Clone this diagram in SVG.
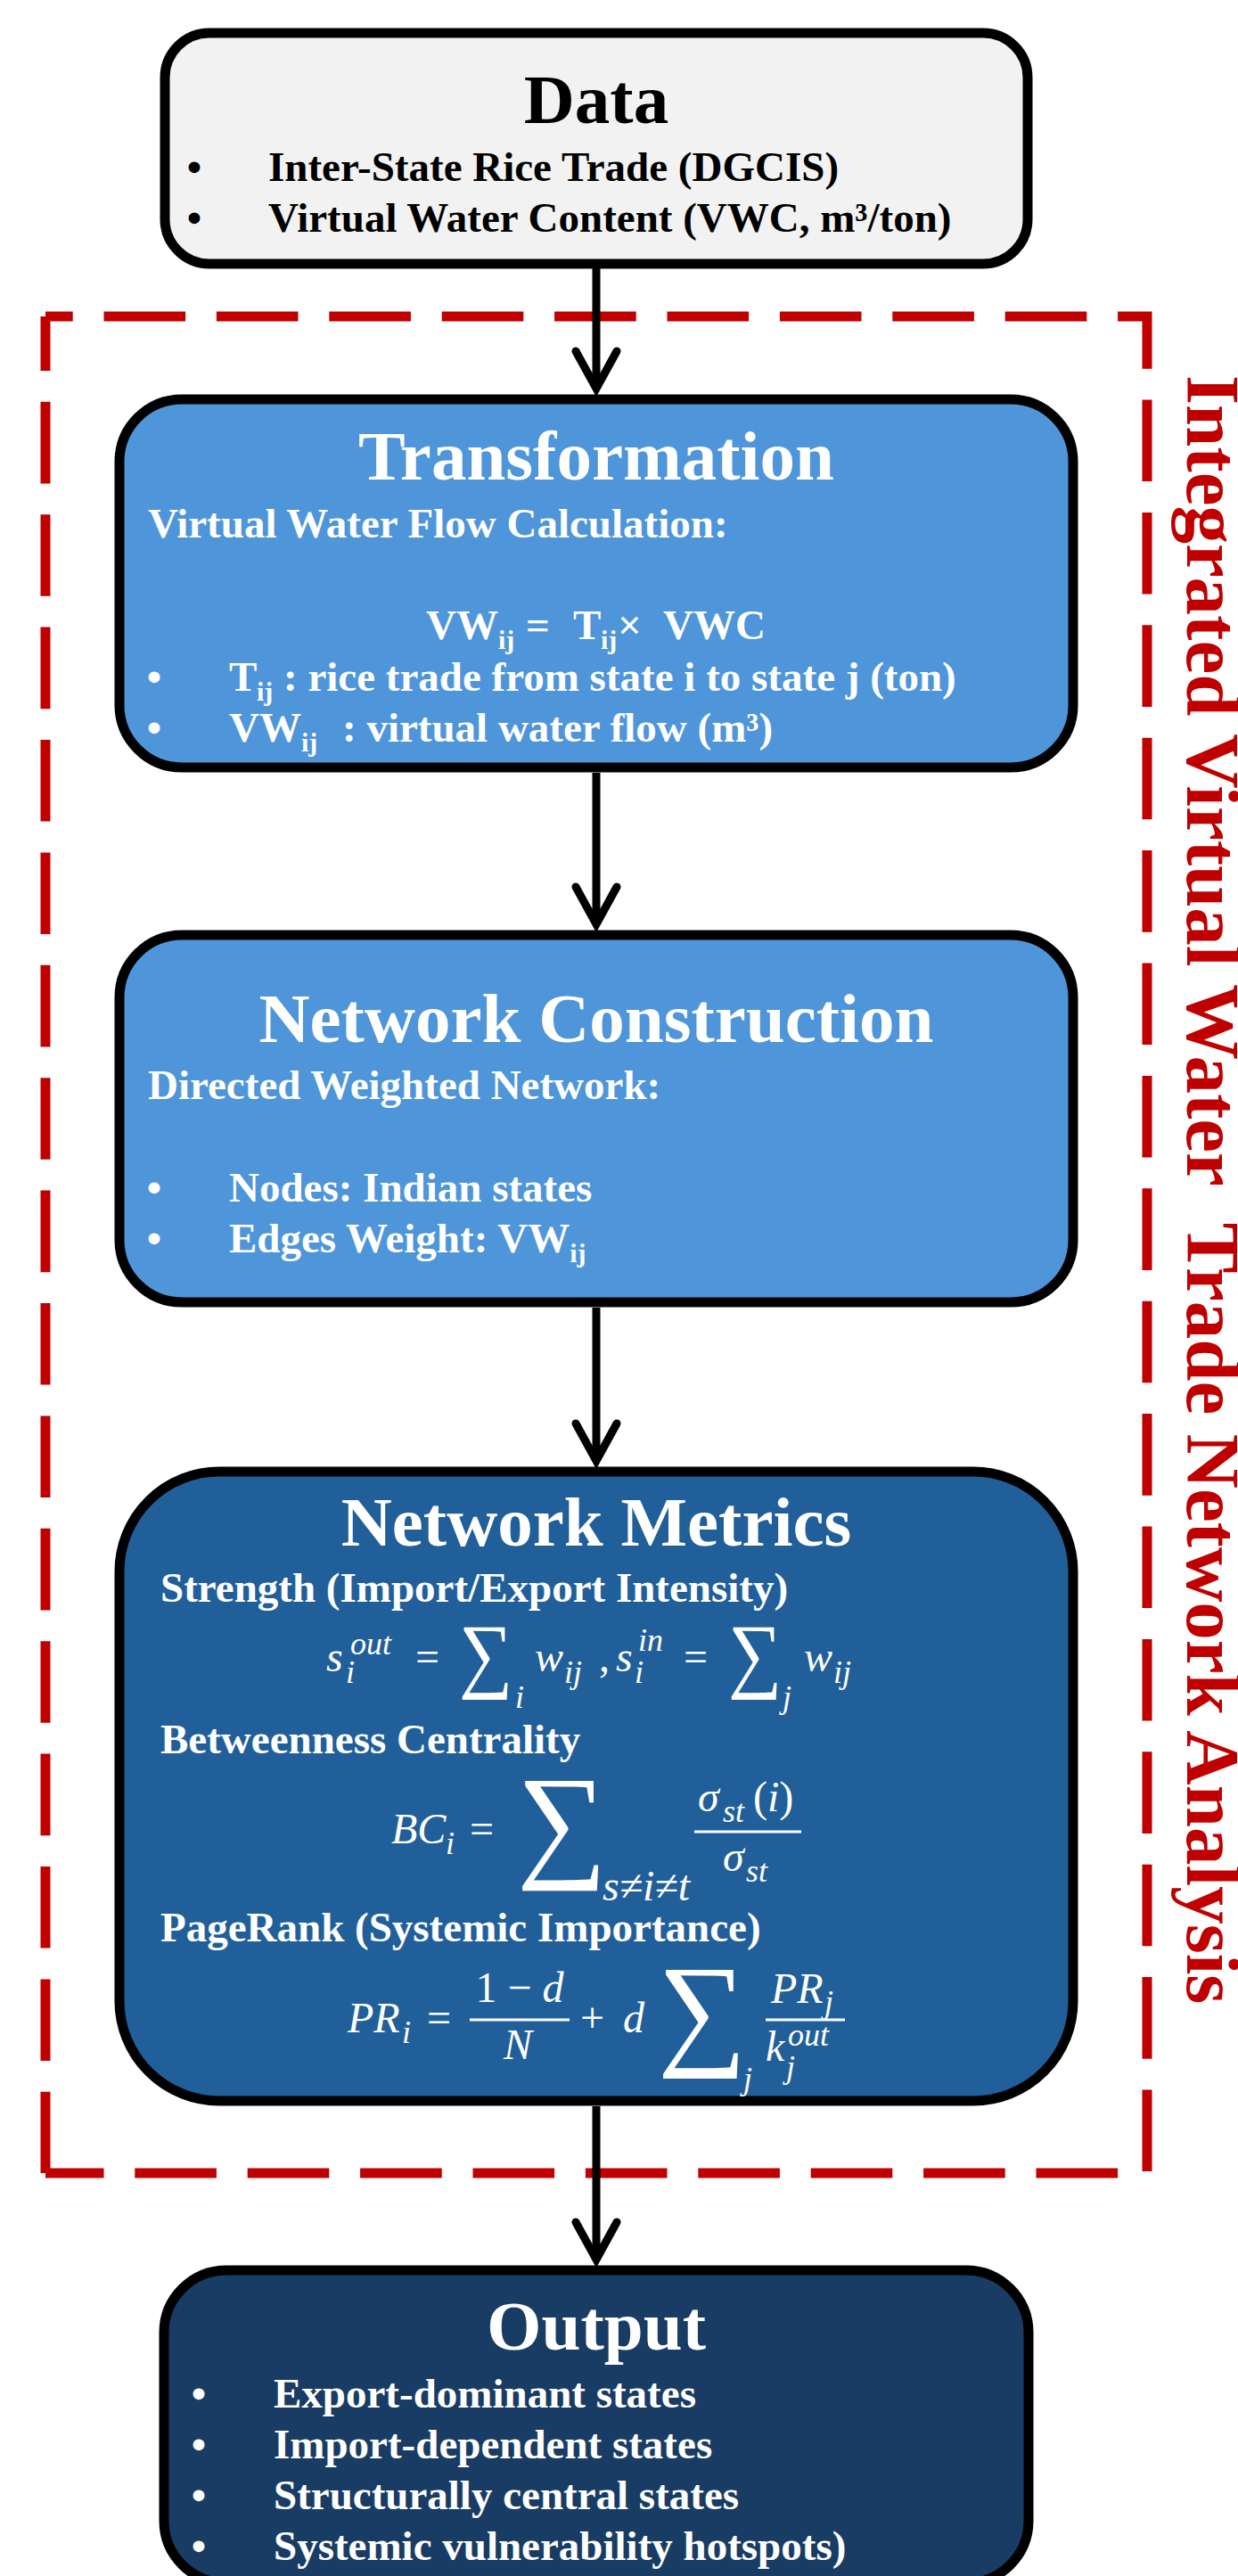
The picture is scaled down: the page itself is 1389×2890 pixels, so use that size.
<svg xmlns="http://www.w3.org/2000/svg" width="1389" height="2890" viewBox="0 0 1389 2890">
  <defs>
    <style>
      .box{stroke:#000;stroke-width:11}
      .t{font-family:"Liberation Serif","Times New Roman",serif;font-weight:bold}
      .title{font-size:79px;text-anchor:middle}
      .body{font-size:47px}
      .sub{font-size:30px}
      .bul{text-anchor:middle}
      .w{fill:#fff}
      .k{fill:#000}
      .m{font-family:"Liberation Serif","Times New Roman",serif;font-style:italic;font-size:48px;fill:#fff}
      .ms{font-size:36px}
      .up{font-style:normal}
      .sum{font-family:"Liberation Serif","Times New Roman",serif;font-style:normal;fill:#fff}
      .bar{stroke:#fff;stroke-width:3}
      .conn{stroke:#000;stroke-width:9;fill:none}
      .head{stroke:#000;stroke-width:9;fill:none;stroke-linecap:round;stroke-linejoin:miter}
      .frame{fill:none;stroke:#C00000;stroke-width:11;stroke-dasharray:91.6 34.8}
      .label{font-family:"Liberation Serif","Times New Roman",serif;font-weight:bold;font-size:85px;fill:#C00000}
    </style>
  </defs>

  <rect width="1389" height="2890" fill="#fff"/>

  <!-- dashed frame around the analysis stages -->
  <g id="frame">
    <path class="frame" d="M51,355 H1287 V2438 H51" stroke-dashoffset="60.9"/>
    <path class="frame" d="M51,355 V2438" stroke-dashoffset="30.6"/>
    <text class="label" transform="translate(1332,421) rotate(90)">Integrated Virtual Water&#160; Trade Network Analysis</text>
  </g>

  <g id="data">
    <rect class="box" x="185" y="37" width="968" height="259" rx="50" fill="#F2F2F2"/>
    <text class="t title k" x="669" y="138">Data</text>
    <text class="t body k bul" x="218" y="203">•</text>
    <text class="t body k" x="301" y="203">Inter-State Rice Trade (DGCIS)</text>
    <text class="t body k bul" x="218" y="260">•</text>
    <text class="t body k" x="301" y="260">Virtual Water Content (VWC, m³/ton)</text>
  </g>

  <g id="transformation">
    <rect class="box" x="134" y="448" width="1070" height="413" rx="70" fill="#4E95D9"/>
    <text class="t title w" x="669" y="538">Transformation</text>
    <text class="t body w" x="166" y="603">Virtual Water Flow Calculation:</text>
    <text class="t body w" y="717"><tspan x="478">VW</tspan><tspan class="sub" x="559" y="728">ij</tspan><tspan x="590" y="717">=</tspan><tspan x="643">T</tspan><tspan class="sub" x="674" y="728">ij</tspan><tspan x="693" y="717">×</tspan><tspan x="744">VWC</tspan></text>
    <text class="t body w bul" x="173" y="775">•</text>
    <text class="t body w" y="775"><tspan x="257">T</tspan><tspan class="sub" x="288" y="786">ij</tspan><tspan x="318" y="775">: rice trade from state i to state j (ton)</tspan></text>
    <text class="t body w bul" x="173" y="832">•</text>
    <text class="t body w" y="832"><tspan x="257">VW</tspan><tspan class="sub" x="338" y="843">ij</tspan><tspan x="384" y="832">: virtual water flow (m³)</tspan></text>
  </g>

  <g id="network-construction">
    <rect class="box" x="134" y="1049" width="1070" height="412" rx="70" fill="#4E95D9"/>
    <text class="t title w" x="669" y="1169">Network Construction</text>
    <text class="t body w" x="166" y="1233">Directed Weighted Network:</text>
    <text class="t body w bul" x="173" y="1348">•</text>
    <text class="t body w" x="257" y="1348">Nodes: Indian states</text>
    <text class="t body w bul" x="173" y="1405">•</text>
    <text class="t body w" x="257" y="1405">Edges Weight: VW<tspan class="sub" dy="11">ij</tspan></text>
  </g>

  <g id="network-metrics">
    <rect class="box" x="134" y="1651" width="1070" height="706" rx="112" fill="#215F9A"/>
    <text class="t title w" x="669" y="1734">Network Metrics</text>

    <text class="t body w" x="180" y="1797">Strength (Import/Export Intensity)</text>
    <!-- strength: s_i^out = sum_i w_ij , s_i^in = sum_j w_ij -->
    <text class="m" x="366" y="1875">s</text>
    <text class="m ms" x="393" y="1856">out</text>
    <text class="m ms" x="388" y="1888">i</text>
    <text class="m up" x="466" y="1875">=</text>
    <text class="sum" transform="translate(515,1887) scale(0.9,1)" font-size="94">∑</text>
    <text class="m ms" x="578" y="1916">i</text>
    <text class="m" x="600" y="1875">w</text>
    <text class="m ms" x="633" y="1888">ij</text>
    <text class="m up" x="672" y="1875">,</text>
    <text class="m" x="691" y="1875">s</text>
    <text class="m ms" x="716" y="1852">in</text>
    <text class="m ms" x="712" y="1888">i</text>
    <text class="m up" x="767" y="1875">=</text>
    <text class="sum" transform="translate(817,1887) scale(0.9,1)" font-size="94">∑</text>
    <text class="m ms" x="878" y="1916">j</text>
    <text class="m" x="902" y="1875">w</text>
    <text class="m ms" x="935" y="1888">ij</text>

    <text class="t body w" x="180" y="1967">Betweenness Centrality</text>
    <!-- betweenness: BC_i = sum_{s!=i!=t} sigma_st(i) / sigma_st -->
    <text class="m" x="439" y="2068">BC</text>
    <text class="m ms" x="500" y="2080">i</text>
    <text class="m up" x="527" y="2068">=</text>
    <text class="sum" x="580" y="2091" font-size="142">∑</text>
    <text class="m" x="676" y="2132" font-size="38">s≠i≠t</text>
    <text class="m" x="783" y="2032">σ</text>
    <text class="m ms" x="811" y="2044">st</text>
    <text class="m" x="845" y="2032"><tspan class="up">(</tspan>i<tspan class="up">)</tspan></text>
    <line class="bar" x1="779" y1="2055" x2="899" y2="2055"/>
    <text class="m" x="811" y="2099">σ</text>
    <text class="m ms" x="837" y="2111">st</text>

    <text class="t body w" x="180" y="2178">PageRank (Systemic Importance)</text>
    <!-- pagerank: PR_i = (1-d)/N + d sum_j PR_j / k_j^out -->
    <text class="m" x="390" y="2280">PR</text>
    <text class="m ms" x="451" y="2292">i</text>
    <text class="m up" x="479" y="2280">=</text>
    <text class="m" x="583" y="2246" text-anchor="middle"><tspan class="up">1 − </tspan>d</text>
    <line class="bar" x1="527" y1="2266" x2="639" y2="2266"/>
    <text class="m" x="565" y="2310">N</text>
    <text class="m up" x="651" y="2280">+</text>
    <text class="m" x="699" y="2280">d</text>
    <text class="sum" x="738" y="2302" font-size="140">∑</text>
    <text class="m ms" x="834" y="2344">j</text>
    <text class="m" x="865" y="2247">PR</text>
    <text class="m ms" x="925" y="2258">j</text>
    <line class="bar" x1="859" y1="2266" x2="948" y2="2266"/>
    <text class="m" x="859" y="2312">k</text>
    <text class="m ms" x="884" y="2295">out</text>
    <text class="m ms" x="882" y="2331">j</text>
  </g>

  <g id="output">
    <rect class="box" x="184" y="2547" width="970" height="351" rx="70" fill="#193C64"/>
    <text class="t title w" x="669" y="2636">Output</text>
    <text class="t body w bul" x="223" y="2701">•</text>
    <text class="t body w" x="307" y="2701">Export-dominant states</text>
    <text class="t body w bul" x="223" y="2758">•</text>
    <text class="t body w" x="307" y="2758">Import-dependent states</text>
    <text class="t body w bul" x="223" y="2815">•</text>
    <text class="t body w" x="307" y="2815">Structurally central states</text>
    <text class="t body w bul" x="223" y="2872">•</text>
    <text class="t body w" x="307" y="2872">Systemic vulnerability hotspots)</text>
  </g>

  <g id="connectors">
    <line class="conn" x1="669" y1="301" x2="669" y2="436"/>
    <polyline class="head" points="646,394 669,436 692,394"/>
    <line class="conn" x1="669" y1="867" x2="669" y2="1037"/>
    <polyline class="head" points="646,995 669,1037 692,995"/>
    <line class="conn" x1="669" y1="1467" x2="669" y2="1639"/>
    <polyline class="head" points="646,1597 669,1639 692,1597"/>
    <line class="conn" x1="669" y1="2363" x2="669" y2="2535"/>
    <polyline class="head" points="646,2493 669,2535 692,2493"/>
  </g>
</svg>
